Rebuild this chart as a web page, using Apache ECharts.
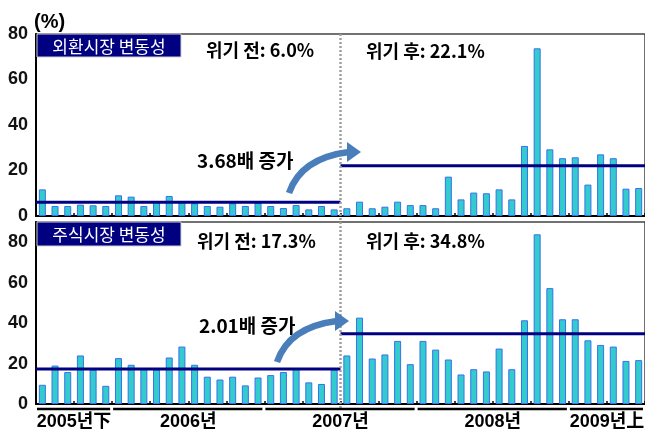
<!DOCTYPE html>
<html><head><meta charset="utf-8">
<script src="https://cdn.jsdelivr.net/npm/echarts@6/dist/echarts.min.js"></script>
<style>html,body{margin:0;padding:0;background:#fff}#c{width:645px;height:432px}</style>
</head><body><div id="c"></div>
<script>
// ---- data ----
const categories = [
 '2005-07','2005-08','2005-09','2005-10','2005-11','2005-12',
 '2006-01','2006-02','2006-03','2006-04','2006-05','2006-06','2006-07','2006-08','2006-09','2006-10','2006-11','2006-12',
 '2007-01','2007-02','2007-03','2007-04','2007-05','2007-06','2007-07','2007-08','2007-09','2007-10','2007-11','2007-12',
 '2008-01','2008-02','2008-03','2008-04','2008-05','2008-06','2008-07','2008-08','2008-09','2008-10','2008-11','2008-12',
 '2009-01','2009-02','2009-03','2009-04','2009-05','2009-06'];
const fxVolatility = [
 11.7, 4.4, 4.4, 5.0, 4.7, 4.4,
 9.1, 8.5, 4.4, 6.5, 8.8, 6.5, 5.6, 4.4, 4.1, 5.6, 4.4, 5.9,
 4.4, 3.5, 4.8, 2.9, 4.4, 2.9, 3.4, 6.3, 3.4, 4.1, 6.3, 4.8,
 4.8, 3.4, 17.3, 7.3, 10.3, 10.0, 11.7, 7.3, 30.8, 73.7, 29.3, 25.4,
 25.8, 13.8, 27.1, 25.4, 12.0, 12.3];
const stockVolatility = [
 9.5, 19.0, 15.8, 24.0, 17.0, 9.0,
 22.7, 19.4, 17.5, 17.0, 23.0, 28.4, 19.4, 13.5, 12.1, 13.5, 9.2, 13.1,
 14.3, 15.8, 17.5, 10.7, 9.9, 17.0, 24.0, 42.7, 22.5, 24.5, 31.2, 19.7,
 31.2, 26.9, 22.0, 14.6, 17.2, 16.1, 27.4, 17.2, 41.4, 83.9, 57.3, 41.9,
 41.9, 31.5, 29.2, 28.4, 21.3, 21.7];
const yearGroups = ['2005년下', '2006년', '2007년', '2008년', '2009년上'];
const yearGroupSizes = [6, 12, 12, 12, 6];
const crisisIndex = 24;
const fxAvg = [6.0, 22.1];
const stockAvg = [17.3, 34.8];
const panelTitles = ['외환시장 변동성', '주식시장 변동성'];
const ratioLabels = ['3.68배 증가', '2.01배 증가'];
const yTickLabels = [0, 20, 40, 60, 80];

// ---- helpers ----
const FONT = '"Noto Sans CJK KR", "Liberation Sans", sans-serif';
const NUMFONT = '"Liberation Sans", "Noto Sans CJK KR", sans-serif';
const grids = [
  {left: 36, top: 34, width: 613, height: 182, show: true, borderColor: '#444', borderWidth: 1.5},
  {left: 36, top: 222, width: 613, height: 182, show: true, borderColor: '#444', borderWidth: 1.5}
];
const yMax = [80, 90];

function avgRender(params, api) {
  const s = api.value(0), e = api.value(1), v = api.value(2);
  const band = api.size([1, 0])[0];
  const p = api.coord([s, v]);
  const x1 = p[0] - band / 2;
  const x2 = api.coord([e - 1, v])[0] + band / 2;
  return {type: 'line', shape: {x1: x1, y1: p[1], x2: x2, y2: p[1]},
          style: {stroke: '#000080', lineWidth: 3}};
}
function crisisRender(extTop, extBottom) {
  return function (params, api) {
    const band = api.size([1, 0])[0];
    const x = api.coord([api.value(0), 0])[0] - band / 2;
    const yb = api.coord([0, 0])[1];
    const yt = params.coordSys.y;
    return {type: 'line', shape: {x1: x, y1: yt - extTop, x2: x, y2: yb + extBottom},
            style: {stroke: '#a0a0a0', lineWidth: 2.5, lineDash: [2, 2]}};
  };
}
function groupRender(params, api) {
  const s = api.value(0), e = api.value(1);
  const band = api.size([1, 0])[0];
  const x1 = api.coord([s, 0])[0] - band / 2;
  const x2 = api.coord([e - 1, 0])[0] + band / 2;
  const y0 = api.coord([s, 0])[1];
  return {type: 'group', children: [
    {type: 'line', shape: {x1: x1 + 1, y1: y0 + 5, x2: x2 - 2, y2: y0 + 5},
     style: {stroke: '#000', lineWidth: 2.5}},
    {type: 'text', style: {text: yearGroups[params.dataIndex], x: (x1 + x2) / 2, y: y0 + 18,
      align: 'center', verticalAlign: 'middle', font: 'bold 18px ' + NUMFONT, fill: '#000'}}
  ]};
}

const groupData = [];
let acc = 0;
yearGroupSizes.forEach(n => { groupData.push([acc, acc + n]); acc += n; });

const series = [];
[fxVolatility, stockVolatility].forEach((vals, i) => {
  const avgs = i === 0 ? fxAvg : stockAvg;
  series.push({type: 'bar', xAxisIndex: i, yAxisIndex: i, data: vals, barWidth: 7,
    itemStyle: {color: '#33CCCC', borderColor: '#3A6FF0', borderWidth: 1}, silent: true, z: 2});
  series.push({type: 'custom', xAxisIndex: i, yAxisIndex: i, renderItem: avgRender, clip: false, silent: true, z: 5,
    encode: {x: 0, y: 2},
    data: [[0, crisisIndex, avgs[0]], [crisisIndex, categories.length, avgs[1]]]});
  series.push({type: 'custom', xAxisIndex: i, yAxisIndex: i,
    renderItem: i === 0 ? crisisRender(0, 6) : crisisRender(0, 4), clip: false, silent: true, z: 6,
    encode: {x: 0, y: 1}, data: [[crisisIndex, 0]]});
});
series.push({type: 'custom', xAxisIndex: 1, yAxisIndex: 1, renderItem: groupRender, clip: false, silent: true, z: 6,
  encode: {x: 0, y: 1}, data: groupData});

const xAxes = [0, 1].map(i => ({
  type: 'category', gridIndex: i, data: categories, boundaryGap: true,
  axisLine: {show: true, lineStyle: {color: '#000', width: 2}},
  axisTick: {show: true, inside: true, length: 3, interval: 2, lineStyle: {color: '#000', width: 1.5}},
  axisLabel: {show: false}, splitLine: {show: false}
}));
const yAxes = [0, 1].map(i => ({
  type: 'value', gridIndex: i, min: 0, max: yMax[i], interval: 20,
  axisLine: {show: true, lineStyle: {color: '#000', width: 2}},
  axisTick: {show: false}, splitLine: {show: false},
  axisLabel: {show: true, margin: 8, color: '#111', fontSize: 18, fontWeight: 'bold', fontFamily: NUMFONT,
    formatter: v => (yTickLabels.indexOf(v) >= 0 ? String(v) : '')}
}));

const textStyle = (size) => ({font: 'bold ' + size + 'px ' + FONT, fill: '#000', verticalAlign: 'middle'});
const arrowColor = '#4A7EBB';
const graphic = [
  {type: 'text', x: 34, y: 22, style: {text: '(%)', font: 'bold 20px ' + NUMFONT, fill: '#000', verticalAlign: 'middle'}},
];
[[34, 57], [222, 246]].forEach((yy, i) => {
  graphic.push({type: 'rect', shape: {x: 37, y: yy[0], width: 144, height: yy[1] - yy[0]},
    style: {fill: '#000080', stroke: '#d0d0d0', lineWidth: 1}, z: 10});
  graphic.push({type: 'text', x: 109, y: (yy[0] + yy[1]) / 2 + 1, z: 11,
    style: {text: panelTitles[i], font: '17px ' + FONT, fill: '#fff', align: 'center', verticalAlign: 'middle'}});
});
const panelTexts = [
  {t: '위기 전: ' + fxAvg[0].toFixed(1) + '%', x: 206, y: 50, s: 18},
  {t: '위기 후: ' + fxAvg[1].toFixed(1) + '%', x: 366, y: 51, s: 18},
  {t: ratioLabels[0], x: 197, y: 161, s: 19},
  {t: '위기 전: ' + stockAvg[0].toFixed(1) + '%', x: 197, y: 241, s: 18},
  {t: '위기 후: ' + stockAvg[1].toFixed(1) + '%', x: 366, y: 241, s: 18},
  {t: ratioLabels[1], x: 199, y: 326, s: 19}
];
panelTexts.forEach(p => graphic.push({type: 'text', x: p.x, y: p.y, z: 11,
  style: Object.assign({text: p.t}, textStyle(p.s))}));
// curved arrows
[[0, 0], [-12, 169]].forEach(d => {
  const dx = d[0], dy = d[1];
  graphic.push({type: 'bezierCurve', z: 12,
    shape: {x1: 289 + dx, y1: 193 + dy, cpx1: 301 + dx, cpy1: 158 + dy, x2: 349 + dx, y2: 152 + dy},
    style: {stroke: arrowColor, lineWidth: 6.5, fill: null}});
  graphic.push({type: 'polygon', z: 12,
    shape: {points: [[347 + dx, 142 + dy], [361 + dx, 152 + dy], [347 + dx, 162 + dy]]},
    style: {fill: arrowColor}});
});

const chart = echarts.init(document.getElementById('c'), null, {renderer: 'canvas'});
chart.setOption({
  animation: false,
  backgroundColor: '#fff',
  grid: grids,
  xAxis: xAxes,
  yAxis: yAxes,
  series: series,
  graphic: graphic
});
</script></body></html>
